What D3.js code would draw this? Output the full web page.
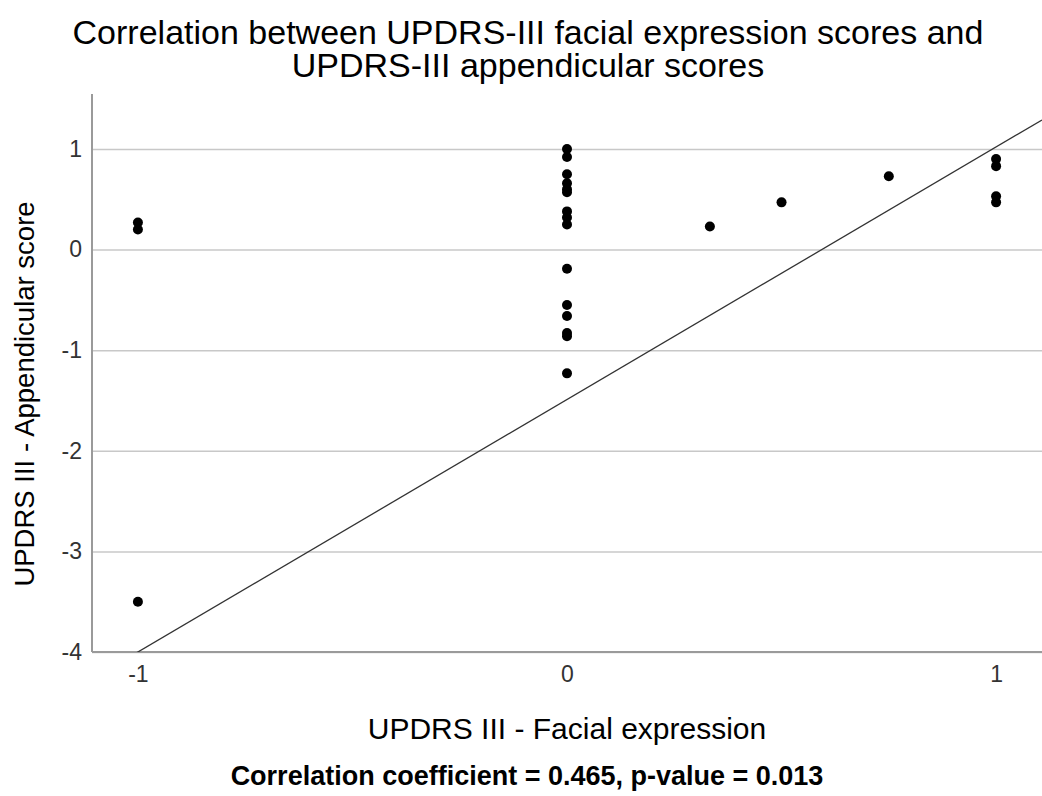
<!DOCTYPE html>
<html>
<head>
<meta charset="utf-8">
<script src="https://cdn.jsdelivr.net/npm/d3@7"></script>
<style>
  body { margin: 0; background: #fff; }
  svg { display: block; font-family: "Liberation Sans", Arial, sans-serif; }
</style>
</head>
<body>
<svg id="chart" width="1042" height="796"></svg>
<script>
// facial expression (x) and appendicular score (y)
const facial = [
  -1, -1, -1,
  0, 0, 0, 0, 0, 0, 0, 0, 0, 0, 0, 0, 0, 0, 0,
  0.333, 0.5, 0.75,
  1, 1, 1, 1
];
const appendicular = [
  0.27, 0.2, -3.5,
  1.0, 0.92, 0.75, 0.66, 0.6, 0.57, 0.38, 0.32, 0.25, -0.19, -0.55, -0.66, -0.83, -0.86, -1.23,
  0.23, 0.47, 0.73,
  0.9, 0.83, 0.53, 0.47
];
const xTicks = [-1, 0, 1];
const yTicks = [1, 0, -1, -2, -3, -4];
// fit line
const fitIntercept = -1.49;
const fitSlope = 2.51;

const titleLines = [
  "Correlation between UPDRS-III facial expression scores and",
  "UPDRS-III appendicular scores"
];
const xLabel = "UPDRS III - Facial expression";
const yLabel = "UPDRS III - Appendicular score";
const footer = "Correlation coefficient = 0.465, p-value = 0.013";

const svg = d3.select("#chart");
const margin = { top: 94, right: 0, bottom: 144, left: 92 };
const width = 1042, height = 796;
const innerWidth = width - margin.left - margin.right;
const innerHeight = height - margin.top - margin.bottom;

const x = d3.scaleLinear().domain([-1.107, 1.107]).range([0, innerWidth]);
const y = d3.scaleLinear().domain([-4, 1.547]).range([innerHeight, 0]);

const g = svg.append("g").attr("transform", `translate(${margin.left},${margin.top})`);

svg.append("defs").append("clipPath").attr("id", "plot-clip")
  .append("rect").attr("width", innerWidth).attr("height", innerHeight);

// plain hyphen for negatives, like the original
const fmt = d => String(d);

// gridlines + y labels
const yAxis = d3.axisLeft(y).tickValues(yTicks).tickSize(-innerWidth).tickPadding(10).tickFormat(fmt);
g.append("g").attr("class", "y-axis").call(yAxis)
  .call(s => s.select(".domain").remove())
  .call(s => s.selectAll(".tick line").attr("stroke", "#c8c8c8").attr("stroke-width", 1.5))
  .call(s => s.selectAll(".tick text").attr("fill", "#333").attr("font-size", 23));

const xAxis = d3.axisBottom(x).tickValues(xTicks).tickSize(0).tickPadding(14).tickFormat(fmt);
g.append("g").attr("class", "x-axis").attr("transform", `translate(0,${innerHeight})`).call(xAxis)
  .call(s => s.select(".domain").remove())
  .call(s => s.selectAll(".tick text").attr("fill", "#333").attr("font-size", 23));

// axis lines
g.append("line").attr("x1", 0).attr("x2", 0).attr("y1", 0).attr("y2", innerHeight)
  .attr("stroke", "#9a9a9a").attr("stroke-width", 2);
g.append("line").attr("x1", 0).attr("x2", innerWidth).attr("y1", innerHeight).attr("y2", innerHeight)
  .attr("stroke", "#9a9a9a").attr("stroke-width", 2);

// fit line
const xs = x.domain();
g.append("line")
  .attr("clip-path", "url(#plot-clip)")
  .attr("x1", x(xs[0])).attr("y1", y(fitIntercept + fitSlope * xs[0]))
  .attr("x2", x(xs[1])).attr("y2", y(fitIntercept + fitSlope * xs[1]))
  .attr("stroke", "#333").attr("stroke-width", 1.3);

// points
g.append("g").selectAll("circle")
  .data(facial.map((d, i) => [d, appendicular[i]]))
  .join("circle")
  .attr("cx", d => x(d[0]))
  .attr("cy", d => y(d[1]))
  .attr("r", 5)
  .attr("fill", "#000");

// title, one text per line
svg.append("g").selectAll("text").data(titleLines).join("text")
  .attr("x", 528).attr("y", (d, i) => 44 + i * 33)
  .attr("text-anchor", "middle").attr("font-size", 34).attr("fill", "#000")
  .text(d => d);

svg.append("text").attr("x", margin.left + x(0)).attr("y", 739).attr("text-anchor", "middle")
  .attr("font-size", 30).attr("fill", "#000").text(xLabel);

svg.append("text").attr("transform", `translate(34,394) rotate(-90)`)
  .attr("text-anchor", "middle").attr("font-size", 27.5).attr("fill", "#000").text(yLabel);

svg.append("text").attr("x", 527).attr("y", 785).attr("text-anchor", "middle")
  .attr("font-size", 27).attr("font-weight", "bold").attr("fill", "#000").text(footer);
</script>
</body>
</html>
